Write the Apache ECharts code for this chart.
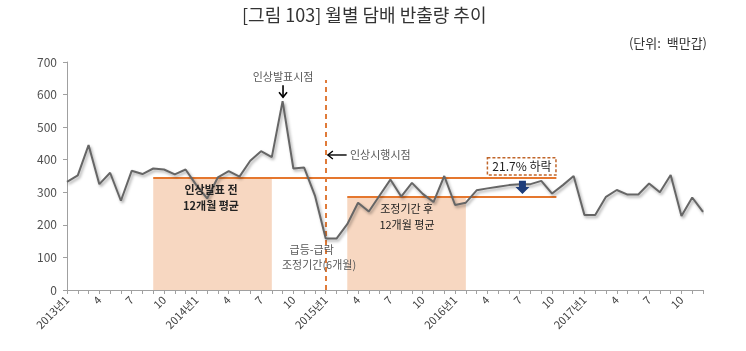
<!DOCTYPE html>
<html>
<head>
<meta charset="utf-8">
<script src="https://cdn.jsdelivr.net/npm/echarts@6/dist/echarts.min.js"></script>
<style>
html,body{margin:0;padding:0;background:#fff;}
#c{width:746px;height:351px;}
</style>
</head>
<body>
<div id="c"></div>
<script>
// Months 2013-01 .. 2017-12 (60 months)
const years = [2013, 2014, 2015, 2016, 2017];
const monthLabels = [];
years.forEach(y => { for (let m = 1; m <= 12; m++) monthLabels.push(m === 1 ? y + '년1' : (m % 3 === 1 ? String(m) : '')); });

// Monthly tobacco shipments (million packs)
const shipments = [
  332, 352, 445, 325, 360, 274, 366, 356, 373, 370, 355, 370,
  322, 281, 346, 365, 348, 397, 426, 408, 580, 373, 376, 290,
  158, 158, 202, 268, 241, 290, 339, 287, 329, 295, 270, 350,
  261, 268, 306, 312, 317, 322, 325, 325, 335, 296, 322, 350,
  230, 230, 286, 307, 293, 293, 327, 300, 353, 227, 284, 240
];

const yTicks = [0, 100, 200, 300, 400, 500, 600, 700];

// reference averages
const avgBefore = 346;   // 12 months before announcement
const avgAfter = 285;    // 12 months after adjustment period
const boxBefore = [8, 19];
const boxAfter = [26, 37];
const implementIdx = 24;

const FONT = '"Noto Sans CJK KR", "Noto Sans", sans-serif';
const chart = echarts.init(document.getElementById('c'));

const option = {
  animation: false,
  backgroundColor: '#fff',
  grid: { left: 67, right: 43, top: 62, bottom: 61 },
  xAxis: {
    type: 'value', min: 0, max: monthLabels.length - 1, interval: 1,
    axisLine: { show: true, lineStyle: { color: '#a0a0a0', width: 1 } },
    axisTick: { show: true, length: 4, lineStyle: { color: '#a0a0a0' } },
    splitLine: { show: false },
    axisLabel: {
      rotate: 45, margin: 8, fontSize: 11, color: '#404040', fontFamily: FONT,
      formatter: v => monthLabels[v] || ''
    }
  },
  yAxis: {
    type: 'value', min: yTicks[0], max: yTicks[yTicks.length - 1], interval: 100,
    axisLine: { show: true, lineStyle: { color: '#a0a0a0', width: 1 } },
    axisTick: { show: true, length: 4, lineStyle: { color: '#a0a0a0' } },
    splitLine: { show: false },
    axisLabel: { margin: 10, fontSize: 12, color: '#505050', fontFamily: FONT }
  },
  series: [
    {
      type: 'line',
      data: shipments.map((v, i) => [i, v]),
      symbol: 'none',
      z: 5,
      lineStyle: { color: '#666666', width: 2, shadowColor: 'rgba(0,0,0,0.35)', shadowBlur: 3, shadowOffsetX: 1.5, shadowOffsetY: 2 },
      markArea: {
        silent: true,
        itemStyle: { color: '#F7D7C1' },
        data: [
          [{ xAxis: boxBefore[0], yAxis: 0 }, { xAxis: boxBefore[1], yAxis: avgBefore }],
          [{ xAxis: boxAfter[0], yAxis: 0 }, { xAxis: boxAfter[1], yAxis: avgAfter }]
        ]
      },
      markLine: {
        silent: true, symbol: 'none', label: { show: false },
        data: [
          [{ coord: [8, avgBefore], lineStyle: { color: '#E5772E', width: 2, type: 'solid' } }, { coord: [45.4, avgBefore] }],
          [{ coord: [26, avgAfter], lineStyle: { color: '#E5772E', width: 2, type: 'solid' } }, { coord: [45.4, avgAfter] }],
          [{ coord: [implementIdx, 0], lineStyle: { color: '#E07B39', width: 2, type: [5, 4] } }, { coord: [implementIdx, 645] }]
        ]
      }
    }
  ]
};
chart.setOption(option);

const P = (x, y) => chart.convertToPixel({ xAxisIndex: 0, yAxisIndex: 0 }, [x, y]);
const txt = (x, y, s, opt) => {
  const p = P(x, y);
  return Object.assign({ type: 'text', x: p[0], y: p[1], z: 20,
    style: Object.assign({ text: s, fontSize: 11, fontFamily: FONT, fill: '#595959', align: 'center', verticalAlign: 'middle' }, opt || {}) });
};

const g = [];
// title & unit (page-level)
g.push({ type: 'text', x: 242, y: 15, style: { text: '[그림 103] 월별 담배 반출량 추이', fontSize: 18, fontFamily: FONT, fill: '#333', align: 'left', verticalAlign: 'middle' } });
g.push({ type: 'text', x: 707, y: 43, style: { text: '(단위:  백만갑)', fontSize: 13, fontFamily: FONT, fill: '#333', align: 'right', verticalAlign: 'middle' } });

// annotations
g.push(txt(20.04, 654, '인상발표시점'));
{
  const a = P(20.04, 629), b = P(20.04, 592);
  g.push({ type: 'line', z: 20, shape: { x1: a[0], y1: a[1], x2: b[0], y2: b[1] }, style: { stroke: '#000', lineWidth: 1.6 } });
  g.push({ type: 'polyline', z: 20, shape: { points: [[b[0] - 4, b[1] - 5], [b[0], b[1]], [b[0] + 4, b[1] - 5]] }, style: { stroke: '#000', lineWidth: 1.6, fill: 'none' } });
}
{
  const a = P(25.94, 414.5), b = P(24.2, 414.5);
  g.push({ type: 'line', z: 20, shape: { x1: a[0], y1: a[1], x2: b[0], y2: b[1] }, style: { stroke: '#000', lineWidth: 1.4 } });
  g.push({ type: 'polyline', z: 20, shape: { points: [[b[0] + 5, b[1] - 4], [b[0], b[1]], [b[0] + 5, b[1] + 4]] }, style: { stroke: '#000', lineWidth: 1.4, fill: 'none' } });
}
g.push(txt(26.25, 414.5, '인상시행시점', { align: 'left' }));
g.push(txt(22.7, 122.8, '급등-급락'));
g.push(txt(23.38, 76.8, '조정기간(6개월)'));
g.push(txt(13.36, 307, '인상발표 전', { fill: '#222', fontWeight: 'bold' }));
g.push(txt(13.36, 258, '12개월 평균', { fill: '#222', fontWeight: 'bold' }));
g.push(txt(31.51, 248.7, '조정기간 후', { fill: '#222' }));
g.push(txt(31.54, 199.6, '12개월 평균', { fill: '#222' }));
{
  const a = P(39.0, 406), b = P(45.36, 353);
  g.push({ type: 'rect', z: 20, shape: { x: a[0], y: a[1], width: b[0] - a[0], height: b[1] - a[1] }, style: { fill: '#fff', stroke: '#C0652A', lineWidth: 1.5, lineDash: [3, 2] } });
  g.push(txt(42.2, 379.5, '21.7% 하락', { fill: '#222', fontSize: 12 }));
  const t = P(42.25, 335.6), m = P(42.25, 316), bt = P(42.25, 294.7);
  g.push({ type: 'polygon', z: 20, shape: { points: [[t[0] - 3.5, t[1]], [t[0] + 3.5, t[1]], [t[0] + 3.5, m[1]], [t[0] + 7, m[1]], [bt[0], bt[1]], [t[0] - 7, m[1]], [t[0] - 3.5, m[1]]] }, style: { fill: '#1F3D7A' } });
}
chart.setOption({ graphic: g });
</script>
</body>
</html>
